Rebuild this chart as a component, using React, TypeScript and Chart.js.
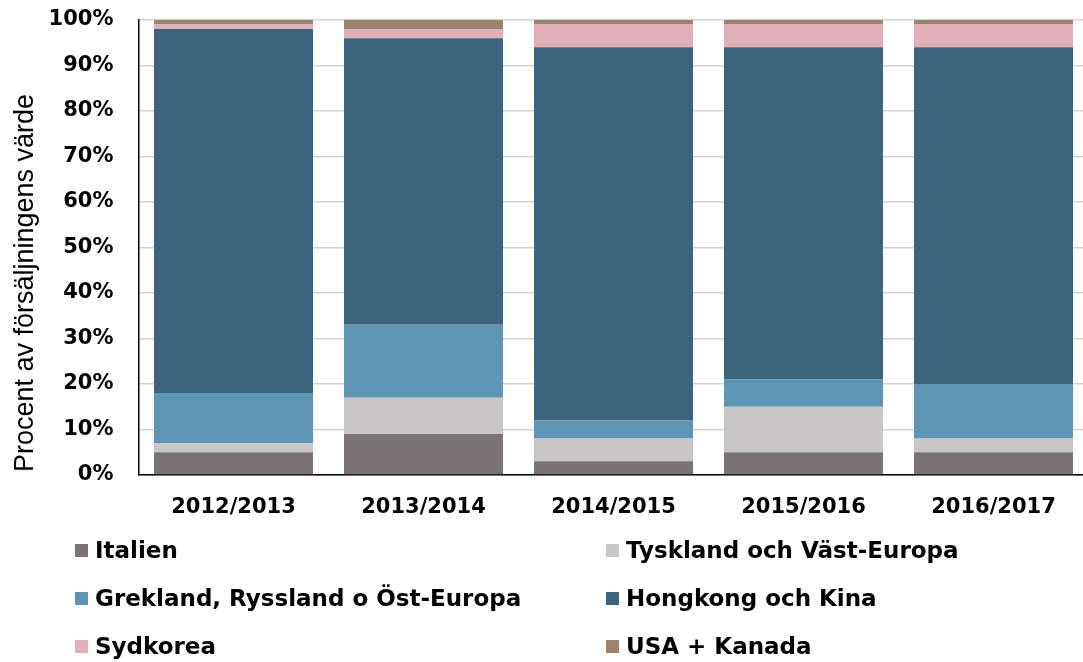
import React, { useEffect, useRef } from "react";
import { Chart, registerables } from "chart.js";

Chart.register(...registerables);

const categories = ["2012/2013", "2013/2014", "2014/2015", "2015/2016", "2016/2017"];
const italien = [5, 9, 3, 5, 5];
const tyskland = [2, 8, 5, 10, 3];
const grekland = [11, 16, 4, 6, 12];
const hongkong = [80, 63, 82, 73, 74];
const sydkorea = [1, 2, 5, 5, 5];
const usaKanada = [1, 2, 1, 1, 1];

const seriesNames = [
  "Italien",
  "Tyskland och Väst-Europa",
  "Grekland, Ryssland o Öst-Europa",
  "Hongkong och Kina",
  "Sydkorea",
  "USA + Kanada",
];
const seriesValues = [italien, tyskland, grekland, hongkong, sydkorea, usaKanada];
const seriesColors = ["#7a7376", "#c8c6c7", "#5e95b5", "#3d647d", "#e2aeb9", "#9b8370"];

const yMin = 0;
const yMax = 100;
const yStep = 10;
const yAxisTitle = "Procent av försäljningens värde";

const boldFont = { family: "'DejaVu Sans', sans-serif", weight: "bold" as const, size: 21 };

const yTitlePlugin = {
  id: "yTitle",
  afterDraw(chart: any) {
    const ctx = chart.ctx;
    ctx.save();
    ctx.translate(33, 283);
    ctx.rotate(-Math.PI / 2);
    ctx.font = "27px 'Liberation Sans', Arial, sans-serif";
    ctx.fillStyle = "#000";
    ctx.textAlign = "center";
    ctx.textBaseline = "alphabetic";
    ctx.fillText(yAxisTitle, 0, 0);
    ctx.restore();
  },
};

export default function App() {
  const ref = useRef<HTMLCanvasElement | null>(null);

  useEffect(() => {
    if (!ref.current) return;
    const chart = new Chart(ref.current, {
      type: "bar",
      data: {
        labels: categories,
        datasets: seriesNames.map((name, i) => ({
          label: name,
          data: seriesValues[i],
          backgroundColor: seriesColors[i],
          borderWidth: 0,
          barPercentage: 0.837,
          categoryPercentage: 1,
        })),
      },
      options: {
        responsive: false,
        animation: false,
        layout: { padding: { top: 20, right: 11.5, left: 0, bottom: 0 } },
        plugins: {
          legend: { display: false },
          tooltip: { enabled: false },
        },
        scales: {
          x: {
            stacked: true,
            grid: { display: false, drawTicks: false },
            border: { display: true, color: "#000", width: 1.5 },
            ticks: { color: "#000", font: boldFont, padding: 20, maxRotation: 0 },
            afterFit: (scale: any) => {
              scale.height = 187;
            },
          },
          y: {
            stacked: true,
            min: yMin,
            max: yMax,
            grid: {
              color: "#d4d4d4",
              lineWidth: 1.5,
              drawTicks: true,
              tickLength: 25,
              tickColor: "rgba(0,0,0,0)",
            },
            border: { display: true, color: "#000", width: 1.5 },
            ticks: {
              stepSize: yStep,
              color: "#000",
              font: boldFont,
              padding: 0,
              callback: (v: any) => v + "%",
            },
            afterFit: (scale: any) => {
              scale.width = 138.5;
            },
          },
        },
      },
      plugins: [yTitlePlugin],
    });
    return () => chart.destroy();
  }, []);

  const legendCols = [75, 606];
  const legendRows = [550, 598, 646];

  return (
    <div
      style={{
        position: "fixed",
        left: 0,
        top: 0,
        width: 1083,
        height: 662,
        overflow: "hidden",
        background: "#fff",
      }}
    >
      <canvas ref={ref} width={1100} height={662} style={{ position: "absolute", left: 0, top: 0 }} />
      {seriesNames.map((name, i) => {
        const col = i % 2;
        const row = Math.floor(i / 2);
        return (
          <div
            key={name}
            style={{
              position: "absolute",
              left: legendCols[col],
              top: legendRows[row] - 15,
              height: 30,
              display: "flex",
              alignItems: "center",
              whiteSpace: "nowrap",
              font: "bold 23px 'DejaVu Sans', sans-serif",
              color: "#000",
            }}
          >
            <span
              style={{
                display: "inline-block",
                width: 13,
                height: 13,
                background: seriesColors[i],
                marginRight: 7,
              }}
            />
            {name}
          </div>
        );
      })}
    </div>
  );
}
